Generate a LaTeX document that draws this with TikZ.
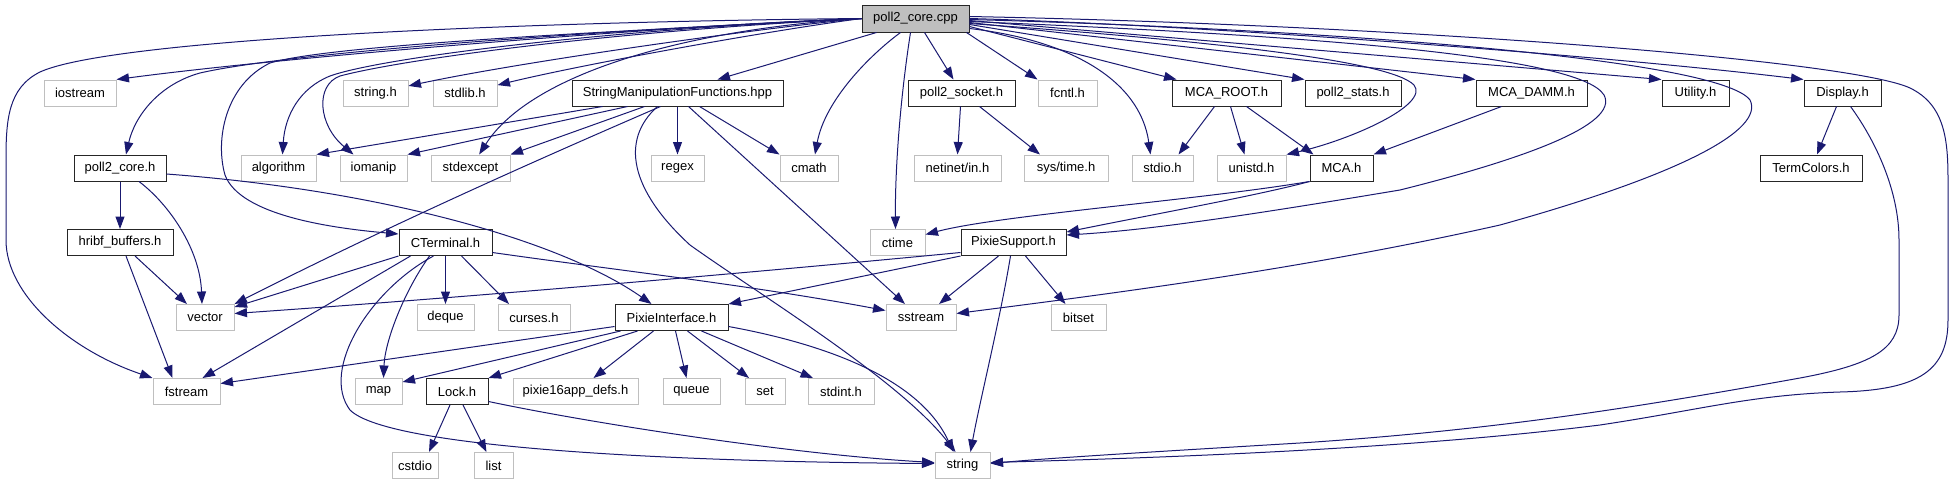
\documentclass[tikz,border=0pt]{standalone}
\usepackage{fontspec}
\setmainfont{Liberation Sans}
\usetikzlibrary{arrows.meta}
\definecolor{edgeblue}{HTML}{191970}
\definecolor{extgray}{HTML}{BFBFBF}
\tikzset{
 box/.style={rectangle, minimum height=26pt, inner sep=0pt, line width=1pt, font=\fontsize{13}{15}\selectfont, text=black, fill=white},
 doc/.style={box, draw=black!85},
 ext/.style={box, draw=extgray},
 e/.style={draw=edgeblue, line width=1pt, -{Triangle[length=12.5pt,width=9pt]}},
}
\begin{document}
\begin{tikzpicture}[x=1pt,y=-1pt]
\useasboundingbox (0,0) rectangle (1955,485);
% row 0
\node[doc, fill=extgray, minimum width=107pt, minimum height=27pt] (root) at (915.5,18.5) {poll2\_core.cpp};
% row 1
\node[ext, minimum width=72pt] (iostream) at (80,93) {iostream};
\node[ext, minimum width=65pt] (stringh) at (375.5,93) {string.h};
\node[ext, minimum width=64pt] (stdlibh) at (465,93) {stdlib.h};
\node[doc, minimum width=211pt] (smf) at (677.5,93) {StringManipulationFunctions.hpp};
\node[doc, minimum width=107pt] (psock) at (961.5,93) {poll2\_socket.h};
\node[ext, minimum width=59pt] (fcntl) at (1067.5,93) {fcntl.h};
\node[doc, minimum width=109pt] (mcaroot) at (1226.5,93) {MCA\_ROOT.h};
\node[doc, minimum width=96pt] (pstats) at (1353,93) {poll2\_stats.h};
\node[doc, minimum width=111pt] (mcadamm) at (1531.5,93) {MCA\_DAMM.h};
\node[doc, minimum width=67pt] (utility) at (1695.5,93) {Utility.h};
\node[doc, minimum width=77pt] (display) at (1842.5,93) {Display.h};
% row 2
\node[doc, minimum width=92pt] (p2core) at (120,168) {poll2\_core.h};
\node[ext, minimum width=75pt] (algorithm) at (278.5,168) {algorithm};
\node[ext, minimum width=67pt] (iomanip) at (373.5,168) {iomanip};
\node[ext, minimum width=79pt] (stdexcept) at (470.5,168) {stdexcept};
\node[ext, minimum width=53pt] (regex) at (677.5,168) {regex};
\node[ext, minimum width=58pt] (cmath) at (809,168) {cmath};
\node[ext, minimum width=87pt] (netinet) at (957.5,168) {netinet/in.h};
\node[ext, minimum width=84pt] (systime) at (1066,168) {sys/time.h};
\node[ext, minimum width=61pt] (stdio) at (1162.5,168) {stdio.h};
\node[ext, minimum width=69pt] (unistd) at (1251.5,168) {unistd.h};
\node[doc, minimum width=63pt] (mca) at (1341.5,168) {MCA.h};
\node[doc, minimum width=102pt] (termcolors) at (1811,168) {TermColors.h};
% row 3
\node[doc, minimum width=106pt] (hribf) at (120,242.5) {hribf\_buffers.h};
\node[doc, minimum width=93pt] (cterm) at (445.5,242.5) {CTerminal.h};
\node[ext, minimum width=55pt] (ctime) at (897.5,242.5) {ctime};
\node[doc, minimum width=105pt] (pxsup) at (1013.5,242.5) {PixieSupport.h};
% row 4
\node[ext, minimum width=58pt] (vector) at (205,317.5) {vector};
\node[ext, minimum width=57pt] (deque) at (445.5,317.5) {deque};
\node[ext, minimum width=72pt] (curses) at (534,317.5) {curses.h};
\node[doc, minimum width=113pt] (pxint) at (671.5,317.5) {PixieInterface.h};
\node[ext, minimum width=70pt] (sstream) at (921,317.5) {sstream};
\node[ext, minimum width=55pt] (bitset) at (1078.5,317.5) {bitset};
% row 5
\node[ext, minimum width=67pt] (fstream) at (186.5,391.5) {fstream};
\node[ext, minimum width=47pt] (map) at (378.5,391.5) {map};
\node[doc, minimum width=62pt] (lock) at (457,391.5) {Lock.h};
\node[ext, minimum width=125pt] (p16) at (575.5,391.5) {pixie16app\_defs.h};
\node[ext, minimum width=57pt] (queue) at (691.5,391.5) {queue};
\node[ext, minimum width=40pt] (set) at (765,391.5) {set};
\node[ext, minimum width=66pt] (stdint) at (841,391.5) {stdint.h};
% row 6
\node[ext, minimum width=46pt] (cstdio) at (415,465.5) {cstdio};
\node[ext, minimum width=39pt] (list) at (493.5,465.5) {list};
\node[ext, minimum width=55pt] (string) at (962.5,465.5) {string};

% ---- edges from root, left side
\draw[e] (root.west) .. controls (700,24) and (300,55) .. (iostream.north east);
\draw[e] (root.west) .. controls (650,28) and (300,50) .. (200,73) .. controls (160,84) and (135,115) .. ([xshift=6pt]p2core.north);
\draw[e] (root.west) .. controls (500,22) and (110,40) .. (40,72) .. controls (8,88) and (6,120) .. (6,160) -- (6,240) .. controls (6,295) and (70,350) .. (fstream.north west);
\draw[e] (root.west) .. controls (600,32) and (330,45) .. (270,63) .. controls (225,85) and (215,140) .. (225,175) .. controls (240,215) and (330,228) .. ([yshift=-5pt]cterm.north west);
\draw[e] (root.west) .. controls (600,30) and (380,58) .. (330,76) .. controls (300,88) and (285,115) .. ([xshift=4pt]algorithm.north);
\draw[e] (root.west) .. controls (600,32) and (400,60) .. (340,76) .. controls (315,85) and (318,125) .. ([xshift=-20pt]iomanip.north);
\draw[e] (root.west) .. controls (760,28) and (520,62) .. (stringh);
\draw[e] (root.west) .. controls (760,32) and (580,65) .. (stdlibh);
\draw[e] (root.west) .. controls (680,30) and (530,75) .. (stdexcept);
\draw[e] ([xshift=15pt]root.south west) -- ([xshift=40pt]smf.north);
\draw[e] ([xshift=39pt]root.south west) .. controls (870,55) and (825,100) .. ([xshift=6pt]cmath.north);
\draw[e] ([xshift=-5pt]root.south) .. controls (900,100) and (895,170) .. ([xshift=-2pt]ctime.north);
\draw[e] ([xshift=9pt]root.south) -- ([xshift=-8pt]psock.north);
% ---- edges from root, right side
\draw[e] ([xshift=-3pt]root.south east) -- (fcntl.north west);
\draw[e] ([yshift=-8pt]root.east) -- ([xshift=5pt]mcaroot.north west);
\draw[e] ([yshift=-10pt]root.east) .. controls (1070,40) and (1140,80) .. ([xshift=-12pt]stdio.north);
\draw[e] ([yshift=-5pt]root.east) .. controls (1200,40) and (1390,60) .. (1414,85) .. controls (1430,105) and (1350,140) .. (unistd.north east);
\draw[e] ([yshift=-6pt]root.east) -- (pstats.north west);
\draw[e] ([yshift=-4pt]root.east) -- (mcadamm.north west);
\draw[e] ([yshift=-2pt]root.east) -- (utility.north west);
\draw[e] (root.east) .. controls (1200,25) and (1600,55) .. (display.north west);
\draw[e] ([yshift=-3pt]root.east) .. controls (1300,35) and (1580,55) .. (1604,95) .. controls (1620,125) and (1520,160) .. (1400,190) .. controls (1250,215) and (1150,230) .. ([yshift=-6pt]pxsup.north east);
\draw[e] ([yshift=-1pt]root.east) .. controls (1350,30) and (1720,60) .. (1750,100) .. controls (1765,130) and (1680,175) .. (1500,225) .. controls (1300,270) and (1100,295) .. ([yshift=4pt]sstream.east);
\draw[e] ([yshift=2pt]root.east) .. controls (1400,25) and (1850,60) .. (1910,88) .. controls (1945,105) and (1948,140) .. (1948,180) -- (1948,320) .. controls (1948,370) and (1920,390) .. (1840,392) .. controls (1750,395) and (1700,410) .. (1600,425) .. controls (1400,450) and (1150,458) .. ([yshift=3pt]string.east);
% ---- Display.h
\draw[e] ([xshift=8pt]display.south) .. controls (1875,140) and (1899,190) .. (1899,240) -- (1899,315) .. controls (1899,350) and (1870,365) .. (1800,378) .. controls (1650,405) and (1500,430) .. (1300,443) .. controls (1150,452) and (1050,458) .. ([yshift=2pt]string.east);
\draw[e] ([xshift=-6pt]display.south) -- ([xshift=6pt]termcolors.north);
% ---- MCA_ROOT.h, MCA_DAMM.h, MCA.h
\draw[e] ([xshift=-12pt]mcaroot.south) -- ([xshift=16pt]stdio.north);
\draw[e] ([xshift=4pt]mcaroot.south) -- ([xshift=-7pt]unistd.north);
\draw[e] ([xshift=20pt]mcaroot.south) -- ([xshift=-28pt]mca.north);
\draw[e] ([xshift=-30pt]mcadamm.south) -- (mca.north east);
\draw[e] (mca.south west) .. controls (1200,200) and (1000,215) .. ([yshift=8pt]ctime.east);
\draw[e] (mca.south west) .. controls (1260,195) and (1150,215) .. ([yshift=-3pt]pxsup.north east);
% ---- poll2_socket.h
\draw[e] ([xshift=-1pt]psock.south) -- (netinet.north);
\draw[e] ([xshift=18pt]psock.south) -- ([xshift=-26pt]systime.north);
% ---- StringManipulationFunctions.hpp
\draw[e] ([xshift=-75pt]smf.south) -- (algorithm.north east);
\draw[e] ([xshift=-50pt]smf.south) -- (iomanip.north east);
\draw[e] ([xshift=-33pt]smf.south) -- (stdexcept.north east);
\draw[e] ([xshift=-17pt]smf.south) .. controls (560,150) and (400,220) .. (vector.north east);
\draw[e] (smf.south) -- (regex.north);
\draw[e] ([xshift=22pt]smf.south) -- (cmath.north west);
\draw[e] ([xshift=11pt]smf.south) -- ([xshift=-16pt]sstream.north);
\draw[e] ([xshift=-20pt]smf.south) .. controls (620,140) and (630,190) .. (690,245) .. controls (760,295) and (900,380) .. ([xshift=-7pt]string.north);
% ---- poll2_core.h
\draw[e] (p2core) -- (hribf);
\draw[e] ([xshift=19pt]p2core.south) .. controls (170,205) and (200,250) .. ([xshift=-3pt]vector.north);
\draw[e] ([yshift=-6pt]p2core.east) .. controls (380,190) and (560,240) .. ([xshift=-20pt]pxint.north);
% ---- hribf_buffers.h
\draw[e] ([xshift=15pt]hribf.south) -- ([xshift=-18pt]vector.north);
\draw[e] ([xshift=6pt]hribf.south) -- ([xshift=-14pt]fstream.north);
% ---- CTerminal.h
\draw[e] (cterm.south west) -- ([yshift=-3pt]vector.north east);
\draw[e] ([xshift=-35pt]cterm.south) -- ([xshift=16pt]fstream.north);
\draw[e] ([xshift=-12pt]cterm.south) .. controls (370,290) and (320,370) .. (350,410) .. controls (390,450) and (700,462) .. ([yshift=2pt]string.west);
\draw[e] ([xshift=-16pt]cterm.south) .. controls (405,290) and (385,340) .. ([xshift=5pt]map.north);
\draw[e] (cterm.south) -- (deque.north);
\draw[e] ([xshift=16pt]cterm.south) -- ([xshift=-25pt]curses.north);
\draw[e] ([yshift=-10pt]cterm.east) .. controls (600,268) and (750,285) .. ([yshift=7pt]sstream.west);
% ---- PixieSupport.h
\draw[e] ([yshift=-10pt]pxsup.west) .. controls (800,268) and (500,295) .. ([yshift=4pt]vector.east);
\draw[e] (pxsup.south west) -- (pxint.north east);
\draw[e] ([xshift=-15pt]pxsup.south) -- ([xshift=18pt]sstream.north);
\draw[e] ([xshift=-3pt]pxsup.south) .. controls (1000,320) and (980,400) .. ([xshift=8pt]string.north);
\draw[e] ([xshift=12pt]pxsup.south) -- ([xshift=-13pt]bitset.north);
% ---- PixieInterface.h
\draw[e] ([yshift=-9pt]pxint.west) -- ([yshift=8pt]fstream.east);
\draw[e] ([xshift=6pt]pxint.south west) -- ([yshift=-4pt]map.north east);
\draw[e] ([xshift=-34pt]pxint.south) -- (lock.north east);
\draw[e] ([xshift=-18pt]pxint.south) -- ([xshift=18pt]p16.north);
\draw[e] ([xshift=4pt]pxint.south) -- ([xshift=-5pt]queue.north);
\draw[e] ([xshift=16pt]pxint.south) -- ([xshift=-16pt]set.north);
\draw[e] ([xshift=30pt]pxint.south) -- ([xshift=-28pt]stdint.north);
\draw[e] ([yshift=-9pt]pxint.east) .. controls (830,345) and (920,380) .. ([xshift=-9pt]string.north);
% ---- Lock.h
\draw[e] ([xshift=-7pt]lock.south) -- ([xshift=14pt]cstdio.north);
\draw[e] ([xshift=6pt]lock.south) -- ([xshift=-7pt]list.north);
\draw[e] ([yshift=-10pt]lock.east) .. controls (600,425) and (800,455) .. ([yshift=3pt]string.west);
\end{tikzpicture}
\end{document}
